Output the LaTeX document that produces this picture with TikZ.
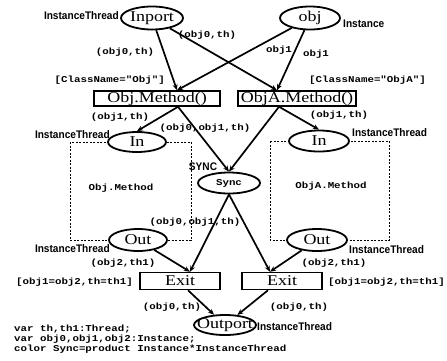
\documentclass[tikz,border=0pt]{standalone}
\usepackage{fontspec}
\newfontfamily\placefont{Liberation Serif}[FakeStretch=1.2]
\newfontfamily\codefont{Liberation Mono}[FakeStretch=1.2]
\newfontfamily\tagfont{Liberation Sans}[FakeStretch=0.92]
\usetikzlibrary{arrows.meta,shapes.geometric,calc}

\tikzset{
  place/.style={ellipse, draw, line width=1.8pt, fill=white, inner sep=0pt,
    minimum width=60pt, minimum height=22pt},
  trans/.style={rectangle, draw, line width=1.5pt, fill=white, inner sep=0pt,
    minimum height=15pt, font=\placefont\fontsize{15}{15}\selectfont},
  nametext/.style={inner sep=0pt, font=\placefont\fontsize{15}{15}\selectfont},
  code/.style={inner sep=0pt, font=\codefont\bfseries\fontsize{9}{10}\selectfont},
  tag/.style={inner sep=0pt, font=\tagfont\bfseries\fontsize{11}{11}\selectfont},
  arc/.style={line width=1.7pt, -{Stealth[length=6pt,width=5pt]}},
  region/.style={line width=0.9pt, dash pattern=on 2pt off 1.5pt}
}

\begin{document}
\begin{tikzpicture}[x=1pt,y=-1pt]
\useasboundingbox (0,0) rectangle (447,360);

% method regions
\draw[region] (70,142) rectangle (191,240);
\draw[region] (270,141) rectangle (389,240);

% places
\node[place, minimum width=62pt, minimum height=23pt] (inport) at (152,18) {};
\node[nametext] (inport-t) at (inport) {Inport};
\node[place, minimum width=60pt, minimum height=23pt] (obj) at (310,18) {};
\node[nametext] (obj-t) at (obj) {obj};
\node[place, minimum width=58pt, minimum height=20pt] (inL) at (137,142) {};
\node[nametext] (inL-t) at (inL) {In};
\node[place, minimum width=60pt, minimum height=21pt] (inR) at (319,141) {};
\node[nametext] (inR-t) at (inR) {In};
\node[place, minimum width=62pt, minimum height=21pt] (sync) at (229,183) {};
\node[code] (sync-t) at (sync) {Sync};
\node[place, minimum width=58pt, minimum height=22pt] (outL) at (138,240) {};
\node[nametext] (outL-t) at (outL) {Out};
\node[place, minimum width=60pt, minimum height=22pt] (outR) at (317,240) {};
\node[nametext] (outR-t) at (outR) {Out};
\node[place, minimum width=62pt, minimum height=20pt] (outport) at (225,325) {};
\node[nametext] (outport-t) at (outport) {Outport};

% transitions
\node[trans, minimum width=126pt] (objM) at (157,98.5) {Obj.Method()};
\node[trans, minimum width=118pt] (objAM) at (297,98.5) {ObjA.Method()};
\node[trans, minimum width=80pt, minimum height=17pt] (exitL) at (180,281) {Exit};
\node[trans, minimum width=80pt, minimum height=17pt] (exitR) at (282,281) {Exit};

% arc end points on the transitions
\coordinate (objM-in)  at ($(objM.north)+(20,0)$);
\coordinate (objM-out) at ($(objM.south)+(21,0)$);
\coordinate (objAM-in)  at ($(objAM.north)+(-20,0)$);
\coordinate (objAM-out) at ($(objAM.south)+(-18,0)$);
\coordinate (exitL-in)  at ($(exitL.north)+(10,0)$);
\coordinate (exitL-out) at ($(exitL.south)+(8,0)$);
\coordinate (exitR-in)  at ($(exitR.north)+(-12,0)$);
\coordinate (exitR-out) at ($(exitR.south)+(-14,0)$);

% arcs
\draw[arc] (inport) -- (objM-in);
\draw[arc] (inport) -- (objAM-in);
\draw[arc] (obj) -- (objM-in);
\draw[arc] (obj) -- (objAM-in);
\draw[arc] (objM-out) -- (inL.north);
\draw[arc] (objM-out) -- (sync.north);
\draw[arc] (objAM-out) -- (sync.north);
\draw[arc] (objAM-out) -- (inR.north);
\draw[arc] (sync.south) -- (exitL-in);
\draw[arc] (sync.south) -- (exitR-in);
\draw[arc] (outL) -- (exitL-in);
\draw[arc] (outR) -- (exitR-in);
\draw[arc] (exitL-out) -- (outport);
\draw[arc] (exitR-out) -- (outport);

% colour sets of the places
\node[tag, anchor=east] (tg-inport) at (119,16) {InstanceThread};
\node[tag, anchor=west] (tg-obj) at (343,24) {Instance};
\node[tag, anchor=east] (tg-inL) at (110,135) {InstanceThread};
\node[tag, anchor=west] (tg-inR) at (352,133) {InstanceThread};
\node[tag, anchor=east] (tg-outL) at (110,249) {InstanceThread};
\node[tag, anchor=west] (tg-outR) at (349,250) {InstanceThread};
\node[tag, anchor=west] (tg-outport) at (257,327) {InstanceThread};
\node[tag] (tg-sync) at (203,167) {SYNC};

% arc inscriptions
\node[code] (a1) at (207,35) {(obj0,th)};
\node[code] (a2) at (125,52) {(obj0,th)};
\node[code] (a3) at (279,50) {obj1};
\node[code] (a4) at (316,54) {obj1};
\node[code] (a5) at (120,117) {(obj1,th)};
\node[code] (a6) at (205,128) {(obj0,obj1,th)};
\node[code] (a7) at (339,115) {(obj1,th)};
\node[code] (a8) at (195,222) {(obj0,obj1,th)};
\node[code] (a9) at (123,263) {(obj2,th1)};
\node[code] (a10) at (334,263) {(obj2,th1)};
\node[code] (a11) at (172,307) {(obj0,th)};
\node[code] (a12) at (299,307) {(obj0,th)};

% guards
\node[code, anchor=east] (g1) at (165,80) {[ClassName="Obj"]};
\node[code, anchor=west] (g2) at (309,80) {[ClassName="ObjA"]};
\node[code, anchor=east] (g3) at (133,282) {[obj1=obj2,th=th1]};
\node[code, anchor=west] (g4) at (328,282) {[obj1=obj2,th=th1]};

% region names
\node[code] (r1) at (121,188) {Obj.Method};
\node[code] (r2) at (331,186) {ObjA.Method};

% declarations
\node[code, anchor=west] (d1) at (14,329) {var th,th1:Thread;};
\node[code, anchor=west] (d2) at (14,339) {var obj0,obj1,obj2:Instance;};
\node[code, anchor=west] (d3) at (14,349) {color Sync=product Instance*InstanceThread};
\end{tikzpicture}
\end{document}
